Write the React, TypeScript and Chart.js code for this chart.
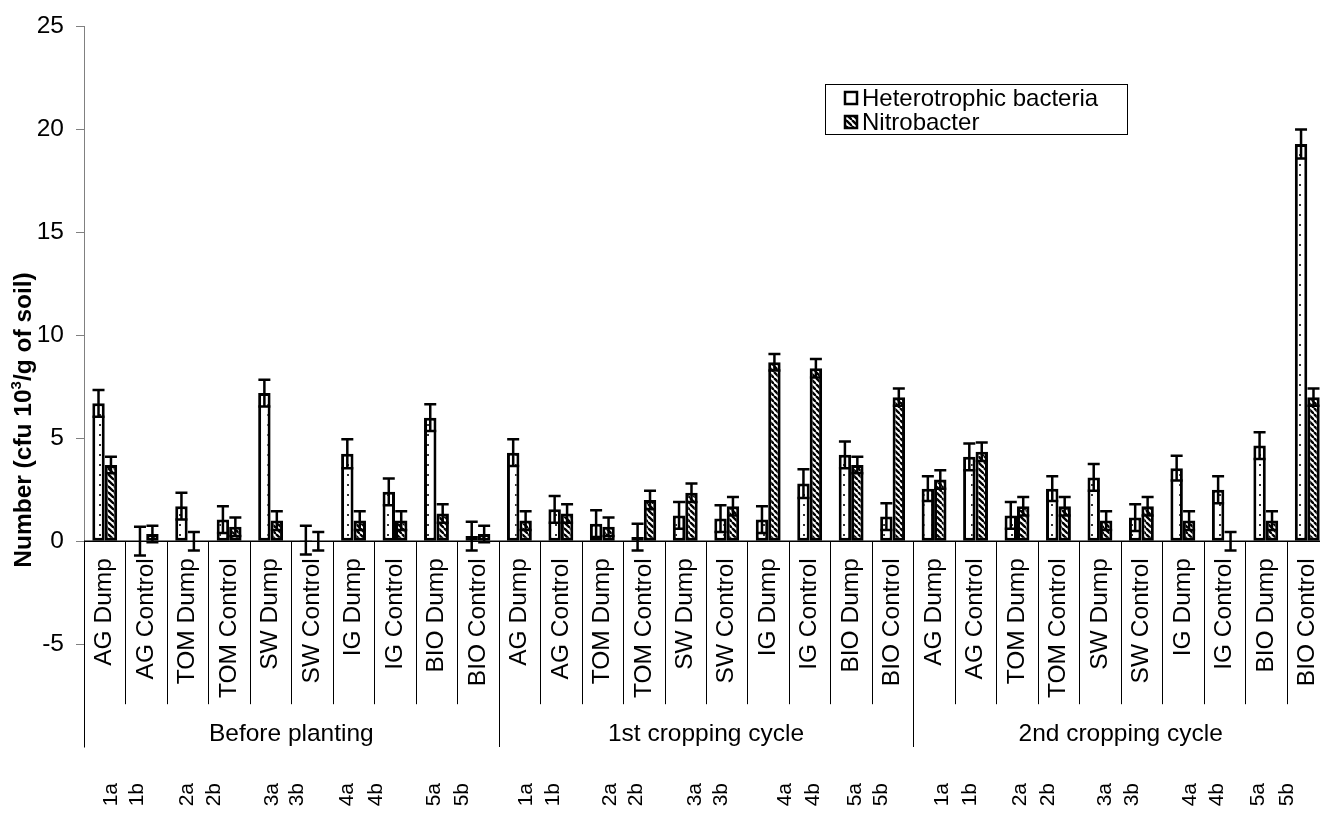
import React, { useEffect, useRef } from "react";
import { Chart, registerables } from "chart.js";

Chart.register(...registerables);

const stages = ["Before planting", "1st cropping cycle", "2nd cropping cycle"];
const treatments = [
  "AG Dump", "AG Control", "TOM Dump", "TOM Control", "SW Dump",
  "SW Control", "IG Dump", "IG Control", "BIO Dump", "BIO Control",
];
const categories = stages.flatMap(() => treatments);

const seriesNames = ["Heterotrophic bacteria", "Nitrobacter"];

const hetValues = [
  6.7, 0, 1.7, 1.05, 7.2, 0.05, 4.25, 2.4, 6.0, 0.25,
  4.3, 1.55, 0.85, 0.2, 1.25, 1.1, 1.05, 2.8, 4.2, 1.2,
  2.55, 4.1, 1.25, 2.55, 3.1, 1.15, 3.55, 2.5, 4.65, 19.3,
];
const hetErrors = [
  0.65, 0.7, 0.65, 0.65, 0.65, 0.7, 0.7, 0.65, 0.65, 0.7,
  0.65, 0.65, 0.65, 0.65, 0.65, 0.65, 0.65, 0.7, 0.65, 0.65,
  0.6, 0.65, 0.65, 0.6, 0.65, 0.65, 0.6, 0.65, 0.65, 0.7,
];
const nitroValues = [
  3.7, 0.35, 0, 0.7, 1.0, 0, 1.0, 1.0, 1.35, 0.35,
  1.0, 1.35, 0.7, 2.0, 2.35, 1.7, 8.7, 8.4, 3.7, 7.0,
  3.0, 4.35, 1.7, 1.7, 1.0, 1.7, 1.0, 0, 1.0, 7.0,
];
const nitroErrors = [
  0.4, 0.4, 0.45, 0.45, 0.45, 0.45, 0.45, 0.45, 0.45, 0.4,
  0.45, 0.45, 0.45, 0.45, 0.45, 0.45, 0.4, 0.45, 0.4, 0.42,
  0.45, 0.45, 0.45, 0.45, 0.45, 0.45, 0.45, 0.45, 0.45, 0.42,
];

const yTicks = [-5, 0, 5, 10, 15, 20, 25];

const codeLabels = stages.flatMap(() => ["1a", "1b", "2a", "2b", "3a", "3b", "4a", "4b", "5a", "5b"]);
// tick values on the category index axis
const codeTickValues = [
  0.15, 0.78, 1.98, 2.64, 4.04, 4.64, 5.84, 6.54, 7.94, 8.62,
  10.16, 10.81, 12.19, 12.82, 14.24, 14.87, 16.41, 17.09, 18.1, 18.73,
  20.2, 20.87, 22.08, 22.76, 24.13, 24.78, 26.18, 26.83, 27.82, 28.52,
];

const FONT = "'Liberation Sans', Arial, sans-serif";

function makeDotPattern(): CanvasPattern | string {
  const c = document.createElement("canvas");
  c.width = 8;
  c.height = 10;
  const g = c.getContext("2d");
  if (!g) return "#fff";
  g.fillStyle = "#fff";
  g.fillRect(0, 0, 8, 10);
  g.fillStyle = "#333";
  g.fillRect(3, 4, 2, 2);
  return g.createPattern(c, "repeat") || "#fff";
}

function makeHatchPattern(): CanvasPattern | string {
  const s = 6;
  const c = document.createElement("canvas");
  c.width = s;
  c.height = s;
  const g = c.getContext("2d");
  if (!g) return "#444";
  g.fillStyle = "#fff";
  g.fillRect(0, 0, s, s);
  g.strokeStyle = "#000";
  g.lineWidth = 2.4;
  for (let k = -1; k <= 1; k++) {
    g.beginPath();
    g.moveTo(k * s, 0);
    g.lineTo(k * s + s, s);
    g.stroke();
  }
  return g.createPattern(c, "repeat") || "#444";
}

export default function App() {
  const ref = useRef<HTMLCanvasElement | null>(null);

  useEffect(() => {
    if (!ref.current) return;
    const dots = makeDotPattern();
    const hatch = makeHatchPattern();
    const errors = [hetErrors, nitroErrors];

    const errorBars = {
      id: "errorBars",
      afterDatasetsDraw(chart: any) {
        const ctx = chart.ctx;
        const ys = chart.scales.y;
        ctx.save();
        ctx.strokeStyle = "#000";
        ctx.lineWidth = 2.5;
        chart.data.datasets.forEach((ds: any, di: number) => {
          const meta = chart.getDatasetMeta(di);
          meta.data.forEach((bar: any, i: number) => {
            const v = ds.data[i];
            const e = errors[di][i];
            const x = bar.x;
            const top = ys.getPixelForValue(v + e);
            const bot = ys.getPixelForValue(v - e);
            const half = 6;
            ctx.beginPath();
            ctx.moveTo(x, top);
            ctx.lineTo(x, bot);
            ctx.moveTo(x - half, top);
            ctx.lineTo(x + half, top);
            ctx.moveTo(x - half, bot);
            ctx.lineTo(x + half, bot);
            ctx.stroke();
          });
        });
        ctx.restore();
      },
    };

    const decorations = {
      id: "decorations",
      afterDraw(chart: any) {
        const ctx = chart.ctx;
        const xs = chart.scales.x;
        const ys = chart.scales.y;
        const area = chart.chartArea;
        const y0 = ys.getPixelForValue(0);
        ctx.save();

        // zero axis line
        ctx.strokeStyle = "#000";
        ctx.lineWidth = 1.5;
        ctx.beginPath();
        ctx.moveTo(area.left, y0);
        ctx.lineTo(area.right, y0);
        ctx.stroke();

        // category separators
        ctx.lineWidth = 1;
        for (let k = 0; k <= categories.length; k++) {
          const x = Math.round(xs.getPixelForValue(k - 0.5)) + 0.5;
          const isGroup = k % treatments.length === 0;
          ctx.beginPath();
          ctx.moveTo(x, y0);
          ctx.lineTo(x, isGroup ? area.bottom : y0 + 163);
          ctx.stroke();
        }

        // category labels (rotated)
        ctx.fillStyle = "#000";
        ctx.font = `24.5px ${FONT}`;
        ctx.textAlign = "right";
        ctx.textBaseline = "middle";
        categories.forEach((lab, i) => {
          const x = xs.getPixelForValue(i);
          ctx.save();
          ctx.translate(x, y0 + 17);
          ctx.rotate(-Math.PI / 2);
          ctx.fillText(lab, 0, 0);
          ctx.restore();
        });

        // stage labels
        ctx.textAlign = "center";
        stages.forEach((s, g) => {
          const a = xs.getPixelForValue(g * treatments.length - 0.5);
          const b = xs.getPixelForValue((g + 1) * treatments.length - 0.5);
          ctx.fillText(s, (a + b) / 2, 734);
        });

        // code labels
        ctx.font = `21px ${FONT}`;
        ctx.textAlign = "right";
        codeLabels.forEach((lab, i) => {
          const x = xs.getPixelForValue(codeTickValues[i]);
          ctx.save();
          ctx.translate(x, 783);
          ctx.rotate(-Math.PI / 2);
          ctx.fillText(lab, 0, 0);
          ctx.restore();
        });

        // y-axis title
        ctx.save();
        ctx.translate(24, 420);
        ctx.rotate(-Math.PI / 2);
        ctx.textBaseline = "middle";
        ctx.font = `bold 24.5px ${FONT}`;
        const p1 = "Number (cfu 10";
        const sup = "3";
        const p2 = "/g of soil)";
        const w1 = ctx.measureText(p1).width;
        const w3 = ctx.measureText(p2).width;
        ctx.font = `bold 15px ${FONT}`;
        const w2 = ctx.measureText(sup).width;
        const total = w1 + w2 + w3;
        let cx = -total / 2;
        ctx.textAlign = "left";
        ctx.font = `bold 24.5px ${FONT}`;
        ctx.fillText(p1, cx, 0);
        cx += w1;
        ctx.font = `bold 15px ${FONT}`;
        ctx.fillText(sup, cx, -7);
        cx += w2;
        ctx.font = `bold 24.5px ${FONT}`;
        ctx.fillText(p2, cx, 0);
        ctx.restore();

        // legend
        ctx.strokeStyle = "#000";
        ctx.lineWidth = 1;
        ctx.strokeRect(825.5, 84.5, 302, 50);
        const fills = [dots, hatch];
        seriesNames.forEach((name, i) => {
          const cy = 98 + i * 24;
          ctx.fillStyle = i === 0 ? "#fff" : (fills[i] as any);
          ctx.fillRect(845, cy - 6, 12, 12);
          ctx.lineWidth = 2.5;
          ctx.strokeRect(845, cy - 6, 12, 12);
          ctx.fillStyle = "#000";
          ctx.font = `24px ${FONT}`;
          ctx.textAlign = "left";
          ctx.textBaseline = "middle";
          ctx.fillText(name, 862, cy + 1);
        });

        ctx.restore();
      },
    };

    const chart = new Chart(ref.current, {
      type: "bar",
      data: {
        labels: categories,
        datasets: [
          {
            label: seriesNames[0],
            data: hetValues,
            backgroundColor: dots as any,
            borderColor: "#000",
            borderWidth: 3,
            borderSkipped: false,
            categoryPercentage: 0.6,
            barPercentage: 1.0,
          },
          {
            label: seriesNames[1],
            data: nitroValues,
            backgroundColor: hatch as any,
            borderColor: "#000",
            borderWidth: 3,
            borderSkipped: false,
            categoryPercentage: 0.6,
            barPercentage: 1.0,
          },
        ],
      },
      options: {
        responsive: false,
        animation: false,
        devicePixelRatio: 1,
        layout: { padding: { top: 22, bottom: 75, left: 0, right: 0 } },
        plugins: { legend: { display: false }, tooltip: { enabled: false } },
        scales: {
          x: { display: false, offset: true },
          y: {
            min: -10,
            max: 25,
            afterBuildTicks: (scale: any) => {
              scale.ticks = yTicks.map((v) => ({ value: v }));
            },
            afterFit: (scale: any) => {
              scale.width = 84;
            },
            grid: {
              display: true,
              drawOnChartArea: false,
              drawTicks: true,
              tickLength: 8,
              color: "#808080",
            },
            border: { display: true, color: "#808080", width: 1 },
            ticks: {
              color: "#000",
              padding: 12,
              font: { family: FONT, size: 24.5 },
            },
          },
        },
      },
      plugins: [errorBars, decorations],
    });

    return () => chart.destroy();
  }, []);

  return (
    <div
      style={{
        position: "fixed",
        left: 0,
        top: 0,
        width: 1320,
        height: 822,
        overflow: "hidden",
        background: "#fff",
      }}
    >
      <canvas ref={ref} width={1328} height={822} style={{ display: "block" }} />
    </div>
  );
}
